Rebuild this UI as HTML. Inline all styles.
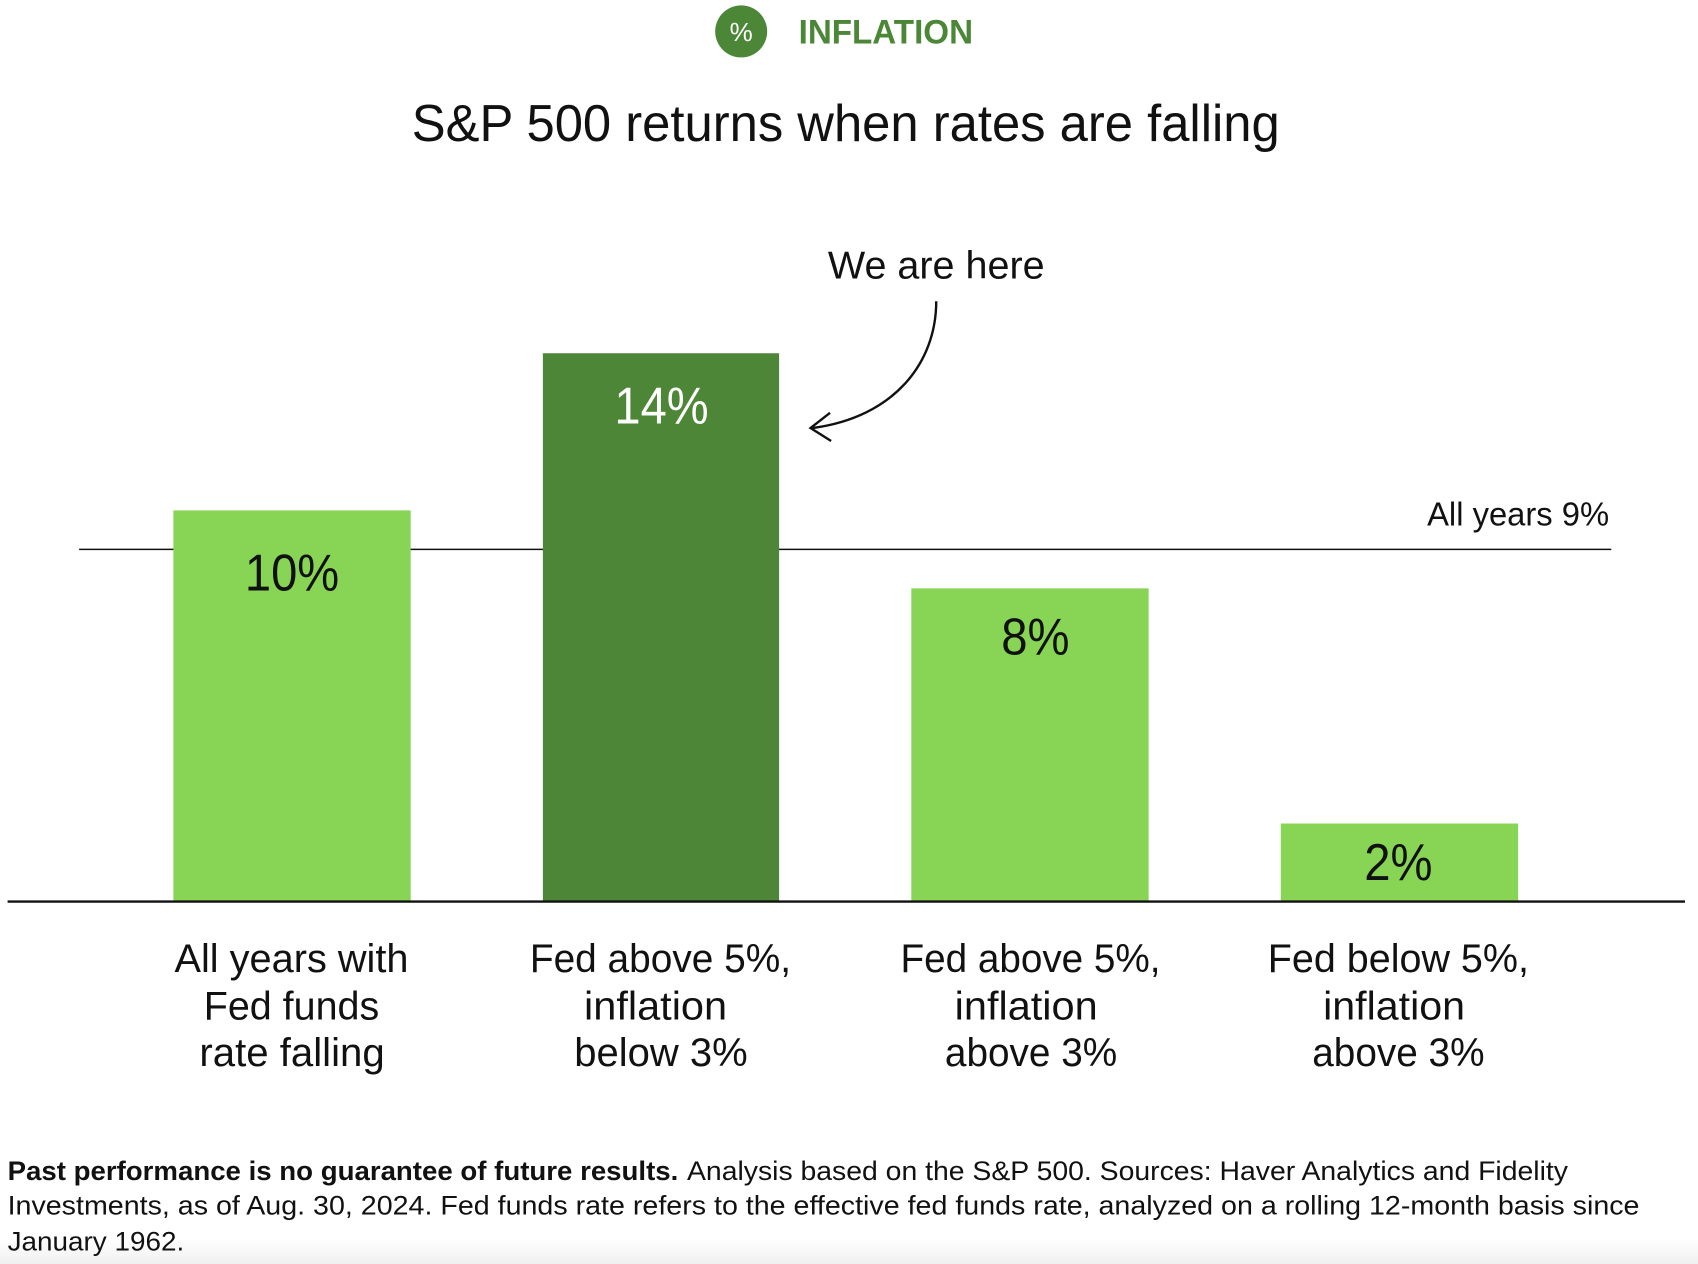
<!DOCTYPE html>
<html>
<head>
<meta charset="utf-8">
<style>
  html,body{margin:0;padding:0;background:#fff;}
  svg{display:block;}
  text{font-family:"Liberation Sans", sans-serif;}
</style>
</head>
<body>
<svg width="1698" height="1264" viewBox="0 0 1567 1166.5" preserveAspectRatio="none" xmlns="http://www.w3.org/2000/svg">
  <defs>
    <linearGradient id="fade" x1="0" y1="0" x2="0" y2="1">
      <stop offset="0" stop-color="#ffffff"/>
      <stop offset="1" stop-color="#f0f0f0"/>
    </linearGradient>
  </defs>
  <rect x="0" y="0" width="1567" height="1166.5" fill="#fff"/>
  <rect x="0" y="1143" width="1567" height="23.5" fill="url(#fade)"/>

  <!-- header -->
  <circle cx="684" cy="29" r="24" fill="#4b8737"/>
  <text x="684" y="38" font-size="24" fill="#fff" text-anchor="middle">%</text>
  <text x="737" y="40" font-size="32" font-weight="bold" fill="#4b8737" textLength="161" lengthAdjust="spacingAndGlyphs">INFLATION</text>

  <text x="380" y="130" font-size="48" fill="#111" textLength="801" lengthAdjust="spacingAndGlyphs">S&amp;P 500 returns when rates are falling</text>

  <!-- average line -->
  <line x1="73" y1="507" x2="1487" y2="507" stroke="#111" stroke-width="1.3"/>
  <text x="1485" y="485" font-size="31" fill="#111" text-anchor="end" textLength="168" lengthAdjust="spacingAndGlyphs">All years 9%</text>

  <!-- bars -->
  <rect x="160" y="471" width="219" height="361" fill="#88d455"/>
  <rect x="501" y="326" width="218" height="506" fill="#4c8636"/>
  <rect x="841" y="543" width="219" height="289" fill="#88d455"/>
  <rect x="1182" y="760" width="219" height="72" fill="#88d455"/>

  <!-- baseline -->
  <line x1="7" y1="832" x2="1555" y2="832" stroke="#111" stroke-width="2.2"/>

  <!-- bar values -->
  <text x="226" y="545" font-size="48" fill="#111" textLength="87" lengthAdjust="spacingAndGlyphs">10%</text>
  <text x="567" y="391" font-size="48" fill="#fff" textLength="87" lengthAdjust="spacingAndGlyphs">14%</text>
  <text x="924" y="604" font-size="48" fill="#111" textLength="63" lengthAdjust="spacingAndGlyphs">8%</text>
  <text x="1259" y="812" font-size="48" fill="#111" textLength="63" lengthAdjust="spacingAndGlyphs">2%</text>

  <!-- annotation -->
  <text x="764" y="257" font-size="36" fill="#111" textLength="200" lengthAdjust="spacingAndGlyphs">We are here</text>
  <path d="M864,278 C 864,335 825,385 750,395" fill="none" stroke="#111" stroke-width="2.2"/>
  <path d="M766,381 L748,395 L767,407" fill="none" stroke="#111" stroke-width="2.2" stroke-linejoin="miter"/>

  <!-- category labels -->
  <g font-size="37" fill="#111">
    <text x="161" y="897" textLength="216" lengthAdjust="spacingAndGlyphs">All years with</text>
    <text x="188" y="941" textLength="162" lengthAdjust="spacingAndGlyphs">Fed funds</text>
    <text x="184" y="984" textLength="171" lengthAdjust="spacingAndGlyphs">rate falling</text>

    <text x="489" y="897" textLength="241" lengthAdjust="spacingAndGlyphs">Fed above 5%,</text>
    <text x="539" y="941" textLength="132" lengthAdjust="spacingAndGlyphs">inflation</text>
    <text x="530" y="984" textLength="160" lengthAdjust="spacingAndGlyphs">below 3%</text>

    <text x="831" y="897" textLength="240" lengthAdjust="spacingAndGlyphs">Fed above 5%,</text>
    <text x="881" y="941" textLength="132" lengthAdjust="spacingAndGlyphs">inflation</text>
    <text x="872" y="984" textLength="159" lengthAdjust="spacingAndGlyphs">above 3%</text>

    <text x="1170" y="897" textLength="241" lengthAdjust="spacingAndGlyphs">Fed below 5%,</text>
    <text x="1221" y="941" textLength="131" lengthAdjust="spacingAndGlyphs">inflation</text>
    <text x="1211" y="984" textLength="159" lengthAdjust="spacingAndGlyphs">above 3%</text>
  </g>

  <!-- footnote -->
  <g font-size="25" fill="#111">
    <text x="7" y="1089" font-weight="bold" textLength="619" lengthAdjust="spacingAndGlyphs">Past performance is no guarantee of future results.</text>
    <text x="634" y="1089" textLength="813" lengthAdjust="spacingAndGlyphs">Analysis based on the S&amp;P 500. Sources: Haver Analytics and Fidelity</text>
    <text x="7" y="1121" textLength="1506" lengthAdjust="spacingAndGlyphs">Investments, as of Aug. 30, 2024. Fed funds rate refers to the effective fed funds rate, analyzed on a rolling 12-month basis since</text>
    <text x="7" y="1154" textLength="163" lengthAdjust="spacingAndGlyphs">January 1962.</text>
  </g>
</svg>
</body>
</html>
